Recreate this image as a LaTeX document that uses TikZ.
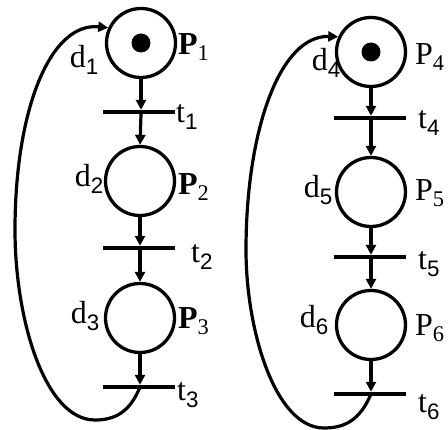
\documentclass[tikz,border=0pt]{standalone}
\usepackage{fontspec}
\setmainfont{Liberation Serif}
\newfontfamily\subsans{Liberation Sans}
\newfontfamily\mainserif{Liberation Serif}
\usetikzlibrary{arrows.meta}
\newcommand{\mylab}[2]{{\mainserif #1}\textsubscript{\subsans #2}}
\newcommand{\myPlab}[2]{{\mainserif\bfseries #1}\textsubscript{\mainserif #2}}
\newcommand{\myPlabr}[2]{{\mainserif #1}\textsubscript{\mainserif #2}}
\begin{document}
\begin{tikzpicture}[x=1pt,y=-1pt,
  place/.style={circle,draw,line width=3.3pt,minimum size=69pt,inner sep=0pt},
  trans/.style={rectangle,fill=black,minimum width=72pt,minimum height=4pt,inner sep=0pt},
  token/.style={circle,fill=black,minimum size=19pt,inner sep=0pt},
  arc/.style={line width=3.2pt,-{Triangle[length=10pt,width=10pt]}},
  loopline/.style={line width=3.2pt},
  lbl/.style={inner sep=0pt,font=\fontsize{32}{32}\selectfont}]
\useasboundingbox (0,0) rectangle (448,430);
\begin{scope}
\clip (0,0) rectangle (448,430);
% left net
\node[place] (P1) at (141,43) {};
\node[token] (k1) at (141,43) {};
\node[trans] (t1) at (139,112) {};
\node[place] (P2) at (140,181) {};
\node[trans] (t2) at (139,248) {};
\node[place] (P3) at (140,318) {};
\node[trans] (t3) at (139,387) {};
% right net
\node[place] (P4) at (371,52) {};
\node[token] (k4) at (371,52) {};
\node[trans] (t4) at (370,118) {};
\node[place] (P5) at (371,192) {};
\node[trans] (t5) at (370,257) {};
\node[place] (P6) at (371,325) {};
\node[trans] (t6) at (370,394) {};
% arcs
\draw[arc] (P1.south) -- (P1.south |- t1.north);
\draw[arc] (P1.south |- t1.south) -- (P2.north);
\draw[arc] (P2.south) -- (P2.south |- t2.north);
\draw[arc] (P2.south |- t2.south) -- (P3.north);
\draw[arc] (P3.south) -- (P3.south |- t3.north);
\draw[arc] (P4.south) -- (P4.south |- t4.north);
\draw[arc] (P4.south |- t4.south) -- (P5.north);
\draw[arc] (P5.south) -- (P5.south |- t5.north);
\draw[arc] (P5.south |- t5.south) -- (P6.north);
\draw[arc] (P6.south) -- (P6.south |- t6.north);
% loops
\coordinate (s3) at (P3.south |- t3.center);
\coordinate (s6) at (P6.south |- t6.center);
\draw[loopline,-{Triangle[length=10pt,width=10pt]}] (s3) .. controls (130,412) and (115,420) .. (95,420)
  .. controls (45,420) and (15,320) .. (15,230)
  .. controls (15,110) and (50,22) .. (P1.155);
\draw[loopline,-{Triangle[length=10pt,width=10pt]}] (s6) .. controls (360,420) and (345,428) .. (324,428)
  .. controls (275,428) and (246,330) .. (246,250)
  .. controls (246,130) and (280,35) .. (P4.155);
% labels
\node[lbl,anchor=east] (d1) at (99,60) {\mylab{d}{1}};
\node[lbl,anchor=east] (d2) at (104,179) {\mylab{d}{2}};
\node[lbl,anchor=east] (d3) at (100,316) {\mylab{d}{3}};
\node[lbl,anchor=east] (d4) at (341,63) {\mylab{d}{4}};
\node[lbl,anchor=east] (d5) at (333,190) {\mylab{d}{5}};
\node[lbl,anchor=east] (d6) at (329,320) {\mylab{d}{6}};
\node[lbl,anchor=west] (lP1) at (178,47) {\myPlab{P}{1}};
\node[lbl,anchor=west] (lP2) at (178,187) {\myPlab{P}{2}};
\node[lbl,anchor=west] (lP3) at (178,321) {\myPlab{P}{3}};
\node[lbl,anchor=west] (lP4) at (415,57) {\myPlabr{P}{4}};
\node[lbl,anchor=west] (lP5) at (415,193) {\myPlabr{P}{5}};
\node[lbl,anchor=west] (lP6) at (415,328) {\myPlabr{P}{6}};
\node[lbl,anchor=west] (lt1) at (176,117) {\mylab{t}{1}};
\node[lbl,anchor=west] (lt2) at (191,257) {\mylab{t}{2}};
\node[lbl,anchor=west] (lt3) at (177,395) {\mylab{t}{3}};
\node[lbl,anchor=west] (lt4) at (418,123) {\mylab{t}{4}};
\node[lbl,anchor=west] (lt5) at (418,264) {\mylab{t}{5}};
\node[lbl,anchor=west] (lt6) at (418,407) {\mylab{t}{6}};
\end{scope}
\end{tikzpicture}
\end{document}
